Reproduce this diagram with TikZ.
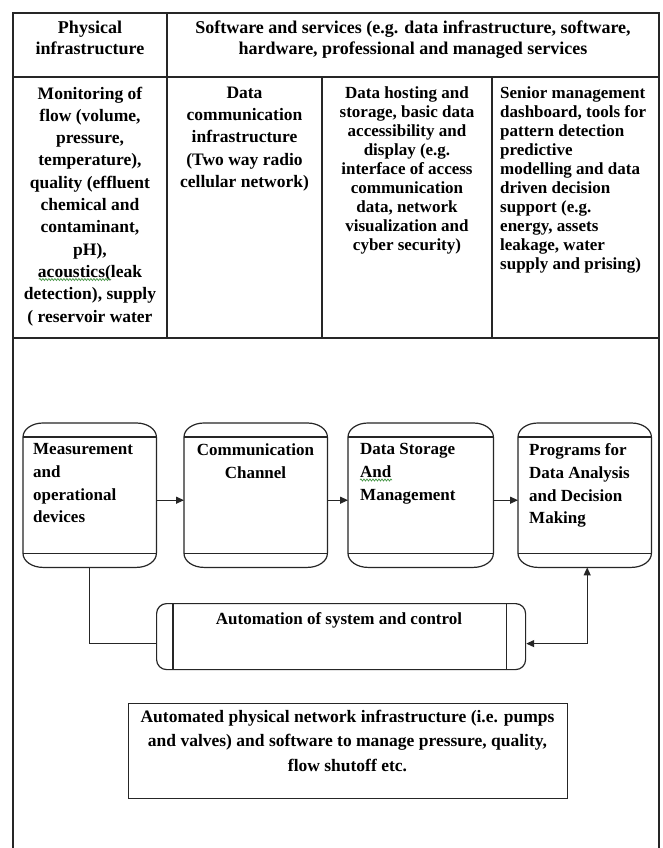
\documentclass[tikz,border=0pt]{standalone}
\usepackage{fontspec}
\setmainfont{Liberation Serif}
\usetikzlibrary{arrows.meta,decorations.pathmorphing}
\definecolor{squig}{RGB}{70,150,70}
\newcommand\drawcapbox[1]{%
  \draw[line] ([yshift=-14pt]#1.north west) -- ([yshift=14pt]#1.south west)
    arc[start angle=180,end angle=270,x radius=20pt,y radius=14pt]
    -- ([xshift=-20pt]#1.south east)
    arc[start angle=270,end angle=360,x radius=20pt,y radius=14pt]
    -- ([yshift=-14pt]#1.north east)
    arc[start angle=0,end angle=90,x radius=20pt,y radius=14pt]
    -- ([xshift=20pt]#1.north west)
    arc[start angle=90,end angle=180,x radius=20pt,y radius=14pt] -- cycle;
  \draw[line] ([yshift=-14pt]#1.north west) -- ([yshift=-14pt]#1.north east);
  \draw[line] ([yshift=14pt]#1.south west) -- ([yshift=14pt]#1.south east);}
\begin{document}
\begin{tikzpicture}[x=1pt,y=1pt,
  line/.style={line width=1.2pt, draw=black!85},
  txt/.style={font=\fontsize{17.5}{22.3}\selectfont\bfseries, inner sep=0pt, text=black},
  head/.style={font=\fontsize{18}{21}\selectfont\bfseries},
  tight/.style={font=\fontsize{17}{19}\selectfont\bfseries},
  boxtxt/.style={font=\fontsize{17}{22.7}\selectfont\bfseries},
  capshape/.style={draw=none, inner sep=0pt, minimum width=#1, minimum height=144pt, anchor=north west},
  squiggle/.style={draw=squig, line width=0.7pt, decorate, decoration={snake, amplitude=1pt, segment length=3pt}},
  arr/.style={-{Triangle[length=8pt,width=7pt]}},
  darr/.style={{Triangle[length=8pt,width=7pt]}-{Triangle[length=8pt,width=7pt]}}]
\useasboundingbox (0,0) rectangle (662,-848);
\fill[white] (0,0) rectangle (662,-848);
% table
\draw[line] (13,-852) -- (13,-13) -- (659,-13) -- (659,-852);
\draw[line] (13,-77) -- (659,-77);
\draw[line] (13,-338) -- (659,-338);
\draw[line] (167,-13) -- (167,-338);
\draw[line] (322,-77) -- (322,-338);
\draw[line] (492,-77) -- (492,-338);
% header texts
\node[txt, head, align=center, anchor=north] (h1) at (90,-21) {Physical\\infrastructure};
\node[txt, head, align=center, anchor=north] (h2) at (413,-21) {Software and services (e.g. data infrastructure, software,\\hardware, professional and managed services};
\node[txt, align=center, anchor=north] (c1) at (90,-86.5) {Monitoring of\\flow (volume,\\pressure,\\temperature),\\quality (effluent\\chemical and\\contaminant,\\pH),\\acoustics(leak\\detection), supply\\( reservoir water};
\node[txt, align=center, anchor=north] (c2) at (244.5,-86.5) {Data\\communication\\infrastructure\\(Two way radio\\cellular network)};
\node[txt, tight, align=center, anchor=north] (c3) at (407,-86.5) {Data hosting and\\storage, basic data\\accessibility and\\display (e.g.\\interface of access\\communication\\data, network\\visualization and\\cyber security)};
\node[txt, tight, align=left, anchor=north west] (c4) at (500,-86.5) {Senior management\\dashboard, tools for\\pattern detection\\predictive\\modelling and data\\driven decision\\support (e.g.\\energy, assets\\leakage, water\\supply and prising)};
% flow boxes
\node[capshape=133pt] (m) at (23,-423) {};
\node[capshape=143pt] (cc) at (184,-423) {};
\node[capshape=145pt] (ds) at (348,-423) {};
\node[capshape=133pt] (p) at (518,-423) {};
\drawcapbox{m}
\drawcapbox{cc}
\drawcapbox{ds}
\drawcapbox{p}
\node[txt, boxtxt, align=left, anchor=north west] (mt) at (33,-443.5) {Measurement\\and\\operational\\devices};
\node[txt, boxtxt, align=center, anchor=north] (cct) at (255.5,-443.5) {Communication\\Channel};
\node[txt, boxtxt, align=left, anchor=north west] (dst) at (360,-443.5) {Data Storage\\And\\Management};
\node[txt, boxtxt, align=left, anchor=north west] (pt) at (529,-443.5) {Programs for\\Data Analysis\\and Decision\\Making};
% spell-check squiggles
\draw[squiggle] (39,-279.5) -- (111,-279.5);
\draw[squiggle] (360,-480) -- (392,-480);
% automation box
\node[line, draw, rounded corners=10pt, inner sep=0pt, minimum width=369pt, minimum height=66pt, anchor=north west] (auto) at (156,-603) {};
\draw[line] ([xshift=17pt]auto.north west) -- ([xshift=17pt]auto.south west);
\draw[line] ([xshift=-20pt]auto.north east) -- ([xshift=-20pt]auto.south east);
\node[txt, boxtxt, anchor=north] (autot) at (339,-612.5) {Automation of system and control};
% physical network box
\node[line, draw, inner sep=0pt, minimum width=439pt, minimum height=95pt, anchor=north west] (phys) at (128,-703) {};
\node[txt, font=\fontsize{17.5}{24.5}\selectfont\bfseries, align=center, anchor=north] (physt) at (347.5,-709.5) {Automated physical network infrastructure (i.e. pumps\\and valves) and software to manage pressure, quality,\\flow shutoff etc.};
% connectors
\draw[line, arr] ([yshift=-5pt]m.east) -- ([yshift=-5pt]cc.west);
\draw[line, arr] ([yshift=-5pt]cc.east) -- ([yshift=-5pt]ds.west);
\draw[line, arr] ([yshift=-5pt]ds.east) -- ([yshift=-5pt]p.west);
\draw[line] (m.south) |- ([yshift=-7pt]auto.west);
\draw[line, darr] ([yshift=-7pt]auto.east) -| ([xshift=2.5pt]p.south);
\end{tikzpicture}
\end{document}
